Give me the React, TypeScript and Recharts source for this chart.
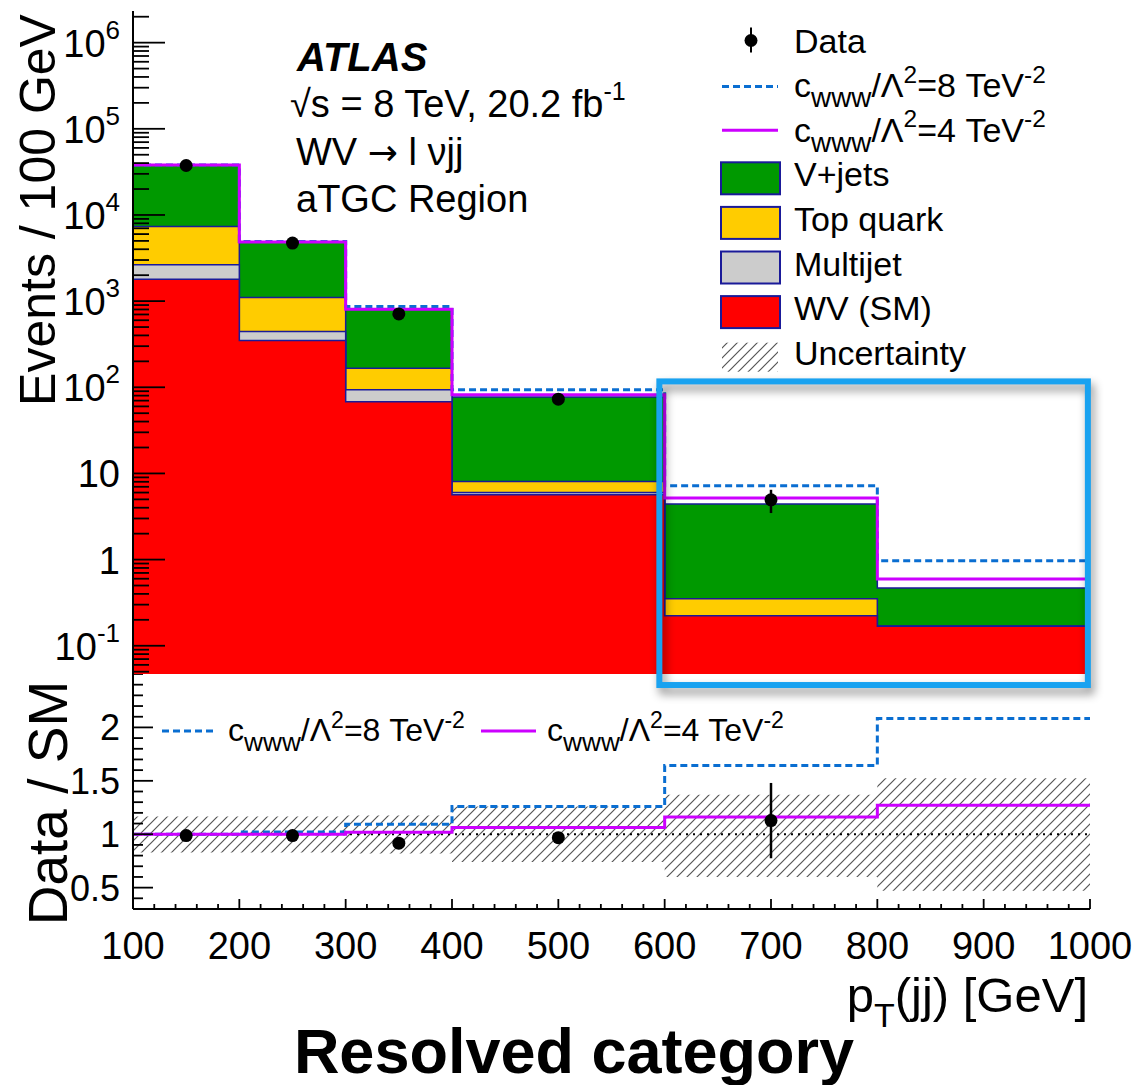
import React from 'react';
import {
  ComposedChart,
  Area,
  Line,
  Scatter,
  ErrorBar,
  XAxis,
  YAxis,
  ReferenceLine,
  ReferenceArea,
} from 'recharts';

const FONT = '"Liberation Sans", Arial, Helvetica, sans-serif';

// p_T(jj) bin edges [GeV]
const binEdges = [100, 200, 300, 400, 600, 800, 1000];
const dataX = [150, 250, 350, 500, 700];

// stacked backgrounds, events / 100 GeV
const wvSM = [1800, 349, 67.7, 5.65, 0.223, 0.168];
const multijet = [840, 94, 25.6, 0.36, 0, 0];
const topQuark = [4690, 657, 73.3, 2.06, 0.128, 0];
const vJets = [30770, 3730, 631, 69.3, 4.06, 0.3];

// aTGC predictions (total)
const cwww8 = [38100, 4930, 865, 93.3, 7.19, 0.97];
const cwww4 = [38100, 4840, 805, 81.7, 5.18, 0.594];

// data
const dataY = [37500, 4720, 711, 72.8, 4.94];
const dataErrLow = [0, 0, 0, 0, 1.47];
const dataErrHigh = [0, 0, 0, 0, 1.52];

// ratio panel
const ratio8 = [1.0, 1.02, 1.094, 1.259, 1.643, 2.083];
const ratio4 = [1.0, 1.0, 1.019, 1.062, 1.162, 1.272];
const ratioData = [0.987, 0.987, 0.916, 0.968, 1.128];
const ratioErrLow = [0, 0, 0, 0, 0.353];
const ratioErrHigh = [0, 0, 0, 0, 0.352];
const uncLow = [0.83, 0.83, 0.82, 0.74, 0.6, 0.47];
const uncHigh = [1.165, 1.165, 1.175, 1.26, 1.37, 1.525];

// axis ticks
const xMajor = [100, 200, 300, 400, 500, 600, 700, 800, 900, 1000];
const xTicks = xMajor.flatMap((v, i) => (i === 0 ? [v] : [v - 80, v - 60, v - 40, v - 20, v]));
const Y_MIN = 0.047;
const Y_MAX = 2.33e6;
const decades = [-2, -1, 0, 1, 2, 3, 4, 5, 6];
const logTicks = decades
  .flatMap((d) => [1, 2, 3, 4, 5, 6, 7, 8, 9].map((m) => m * Math.pow(10, d)))
  .filter((v) => v >= Y_MIN && v <= Y_MAX);
const ratioTicks = Array.from({ length: 23 }, (_, i) => +(0.3 + i * 0.1).toFixed(1));
const ratioLabels = [0.5, 1, 1.5, 2];

const GREEN = '#009900';
const YELLOW = '#ffcc00';
const GREY = '#cccccc';
const RED = '#ff0000';
const NAVY = '#1a1a99';
const BLUE = '#0a6ed1';
const MAGENTA = '#cc00ff';

const lastBin = (i: number) => Math.min(i, binEdges.length - 2);

const topRows = binEdges.map((x, i) => {
  const k = lastBin(i);
  const s1 = wvSM[k];
  const s2 = s1 + multijet[k];
  const s3 = s2 + topQuark[k];
  const s4 = s3 + vJets[k];
  return { x, wv: s1, multi: s2, top: s3, vjets: s4, c8: cwww8[k], c4: cwww4[k] };
});

const ratioRows = binEdges.map((x, i) => {
  const k = lastBin(i);
  return { x, r8: ratio8[k], r4: ratio4[k], band: [uncLow[k], uncHigh[k]] };
});

const topPoints = dataX.map((x, i) => ({ x, y: dataY[i], err: [dataErrLow[i], dataErrHigh[i]] }));
const ratioPoints = dataX.map((x, i) => ({ x, y: ratioData[i], err: [ratioErrLow[i], ratioErrHigh[i]] }));

const axisStyle = { stroke: '#000', strokeWidth: 2 };

const XTick = (props: any) => {
  const { x, y, payload, dir, major, minor, label } = props;
  const isMajor = payload.value % 100 === 0;
  const len = isMajor ? major : minor;
  return (
    <g>
      <line x1={x} y1={y} x2={x} y2={y + dir * len} stroke="#000" strokeWidth={1.8} />
      {label && isMajor && (
        <text x={x} y={y + 50} textAnchor="middle" fontSize={38} fontFamily={FONT} fill="#000">
          {payload.value}
        </text>
      )}
    </g>
  );
};

const LogTick = (props: any) => {
  const { x, y, payload, dir, label } = props;
  const lg = Math.log10(payload.value);
  const e = Math.round(lg);
  const isMajor = Math.abs(lg - e) < 1e-6;
  const len = isMajor ? 32 : 16;
  return (
    <g>
      <line x1={x} y1={y} x2={x + dir * len} y2={y} stroke="#000" strokeWidth={1.8} />
      {label && isMajor && (
        <text x={x - 13} y={y + 14} textAnchor="end" fontSize={38} fontFamily={FONT} fill="#000">
          {e === 0 ? '1' : e === 1 ? '10' : (
            <>
              10<tspan dy={-18} fontSize={26}>{e}</tspan>
            </>
          )}
        </text>
      )}
    </g>
  );
};

const RatioTick = (props: any) => {
  const { x, y, payload, dir, label } = props;
  const v = payload.value;
  const isMajor = ratioLabels.some((l) => Math.abs(l - v) < 1e-6);
  const len = isMajor ? 20 : 10;
  return (
    <g>
      <line x1={x} y1={y} x2={x + dir * len} y2={y} stroke="#000" strokeWidth={1.8} />
      {label && isMajor && (
        <text x={x - 13} y={y + 13} textAnchor="end" fontSize={36} fontFamily={FONT} fill="#000">
          {String(v)}
        </text>
      )}
    </g>
  );
};

const Dot = (p: any) => <circle cx={p.cx} cy={p.cy} r={6.5} fill="#000" />;

const Hatch = ({ id }: { id: string }) => (
  <pattern id={id} patternUnits="userSpaceOnUse" width={10} height={10}>
    <path d="M0,10 L10,0 M-2,2 L2,-2 M8,12 L12,8" stroke="#555" strokeWidth={1.2} />
  </pattern>
);

const CwwwLabel = ({ x, y, value, size }: { x: number; y: number; value: string; size: number }) => (
  <text x={x} y={y} fontSize={size} fontFamily={FONT} fill="#000">
    c<tspan dy={size * 0.3} fontSize={size * 0.82}>www</tspan>
    <tspan dy={-size * 0.3}>/Λ</tspan>
    <tspan dy={-size * 0.42} fontSize={size * 0.72}>2</tspan>
    <tspan dy={size * 0.42}>={value} TeV</tspan>
    <tspan dy={-size * 0.42} fontSize={size * 0.72}>-2</tspan>
  </text>
);

const legendRows = ['Data', 'c8', 'c4', 'V+jets', 'Top quark', 'Multijet', 'WV (SM)', 'Uncertainty'];
const legendFill: Record<string, string> = { 'V+jets': GREEN, 'Top quark': YELLOW, Multijet: GREY, 'WV (SM)': RED };

const Overlay = () => (
  <svg width={1135} height={1085} style={{ position: 'absolute', left: 0, top: 0, zIndex: 3, pointerEvents: 'none' }}>
    <defs>
      <Hatch id="hatchL" />
    </defs>
    <text x={297} y={71} fontSize={40} fontWeight="bold" fontStyle="italic" fontFamily={FONT}>ATLAS</text>
    <text x={290} y={117} fontSize={38} fontFamily={FONT}>
      √s = 8 TeV, 20.2 fb<tspan dy={-17} fontSize={25}>-1</tspan>
    </text>
    <text x={296} y={165} fontSize={38} fontFamily={FONT}>
      WV <tspan fontFamily="DejaVu Sans" fontSize={36}>→</tspan> l νjj
    </text>
    <text x={296} y={212} fontSize={38} fontFamily={FONT}>aTGC Region</text>

    {legendRows.map((name, i) => {
      const b = 52.5 + i * 44.6;
      let sym: React.ReactNode = null;
      if (name === 'Data') {
        sym = (
          <g>
            <line x1={751} x2={751} y1={b - 25} y2={b} stroke="#000" strokeWidth={2} />
            <circle cx={751} cy={b - 12} r={6.5} fill="#000" />
          </g>
        );
      } else if (name === 'c8') {
        sym = <line x1={722} x2={778} y1={b - 10.5} y2={b - 10.5} stroke={BLUE} strokeWidth={3} strokeDasharray="7 4" />;
      } else if (name === 'c4') {
        sym = <line x1={722} x2={778} y1={b - 11.5} y2={b - 11.5} stroke={MAGENTA} strokeWidth={3} />;
      } else if (name === 'Uncertainty') {
        sym = <rect x={722} y={b - 22} width={56} height={29} fill="url(#hatchL)" />;
      } else {
        sym = <rect x={721} y={b - 24} width={59} height={32} fill={legendFill[name]} stroke={NAVY} strokeWidth={2} />;
      }
      return (
        <g key={name}>
          {sym}
          {name === 'c8' || name === 'c4' ? (
            <CwwwLabel x={794} y={b} value={name === 'c8' ? '8' : '4'} size={34} />
          ) : (
            <text x={794} y={b} fontSize={34} fontFamily={FONT}>{name}</text>
          )}
        </g>
      );
    })}

    <line x1={162} x2={213} y1={731} y2={731} stroke={BLUE} strokeWidth={3} strokeDasharray="7 4" />
    <CwwwLabel x={228} y={741} value="8" size={32} />
    <line x1={481} x2={536} y1={731} y2={731} stroke={MAGENTA} strokeWidth={3} />
    <CwwwLabel x={547} y={741} value="4" size={32} />

    <text transform="translate(55,210) rotate(-90)" textAnchor="middle" fontSize={50} fontFamily={FONT}>
      Events / 100 GeV
    </text>
    <text transform="translate(67,803) rotate(-90)" textAnchor="middle" fontSize={55} fontFamily={FONT}>
      Data / SM
    </text>
    <text x={1088} y={1012} textAnchor="end" fontSize={49} fontFamily={FONT}>
      p<tspan dy={15} fontSize={34}>T</tspan>
      <tspan dy={-15}>(jj) [GeV]</tspan>
    </text>
    <text x={574} y={1073} textAnchor="middle" fontSize={63} fontWeight="bold" fontFamily={FONT}>
      Resolved category
    </text>
  </svg>
);

const HighlightBox = (p: any) => (
  <rect
    x={p.x}
    y={p.y}
    width={p.width}
    height={p.height}
    fill="none"
    stroke="#19a2f0"
    strokeWidth={6}
    style={{ filter: 'drop-shadow(3px 6px 5px rgba(0,0,0,0.45))' }}
  />
);

export default function App() {
  return (
    <div style={{ position: 'absolute', left: 0, top: 0, width: 1135, height: 1085, background: '#fff', fontFamily: FONT }}>
      {/* ratio panel */}
      <div style={{ position: 'absolute', left: 0, top: 674, zIndex: 1 }}>
        <ComposedChart width={1135} height={411} data={ratioRows} margin={{ top: 0, right: 45, bottom: 0, left: 0 }}>
          <defs>
            <Hatch id="hatchR" />
          </defs>
          <XAxis
            xAxisId="b"
            type="number"
            dataKey="x"
            domain={[100, 1000]}
            allowDataOverflow
            ticks={xTicks}
            interval={0}
            height={176}
            tickSize={0}
            tickMargin={0}
            tickLine={false}
            axisLine={axisStyle}
            tick={(p: any) => <XTick {...p} dir={-1} major={10} minor={5} label />}
          />
          <XAxis
            xAxisId="t"
            orientation="top"
            type="number"
            dataKey="x"
            domain={[100, 1000]}
            allowDataOverflow
            ticks={xTicks}
            interval={0}
            height={0}
            tickSize={0}
            tickMargin={0}
            tickLine={false}
            axisLine={axisStyle}
            tick={(p: any) => <XTick {...p} dir={1} major={9} minor={5} />}
          />
          <YAxis
            yAxisId="l"
            type="number"
            domain={[0.3, 2.5]}
            allowDataOverflow
            ticks={ratioTicks}
            interval={0}
            width={133}
            tickSize={0}
            tickMargin={0}
            tickLine={false}
            axisLine={axisStyle}
            tick={(p: any) => <RatioTick {...p} dir={1} label />}
          />
          <YAxis
            yAxisId="r"
            orientation="right"
            type="number"
            domain={[0.3, 2.5]}
            allowDataOverflow
            ticks={ratioTicks}
            interval={0}
            width={0}
            tickSize={0}
            tickMargin={0}
            tickLine={false}
            axisLine={axisStyle}
            tick={(p: any) => <RatioTick {...p} dir={-1} />}
          />
          <Area
            xAxisId="b"
            yAxisId="l"
            type="stepAfter"
            dataKey="band"
            fill="url(#hatchR)"
            fillOpacity={1}
            stroke="none"
            isAnimationActive={false}
          />
          <ReferenceLine xAxisId="b" yAxisId="l" y={1} stroke="#000" strokeWidth={2} strokeDasharray="2 5" />
          <Line xAxisId="b" yAxisId="l" type="stepAfter" dataKey="r8" stroke={BLUE} strokeWidth={3} strokeDasharray="7 4" dot={false} isAnimationActive={false} />
          <Line xAxisId="b" yAxisId="l" type="stepAfter" dataKey="r4" stroke={MAGENTA} strokeWidth={3} dot={false} isAnimationActive={false} />
          <Scatter xAxisId="b" yAxisId="l" data={ratioPoints} dataKey="y" shape={Dot} isAnimationActive={false}>
            <ErrorBar dataKey="err" direction="y" width={0} stroke="#000" strokeWidth={2.5} isAnimationActive={false} />
          </Scatter>
        </ComposedChart>
      </div>

      {/* main panel */}
      <div style={{ position: 'absolute', left: 0, top: 0, zIndex: 2 }}>
        <ComposedChart width={1135} height={710} data={topRows} margin={{ top: 11, right: 45, bottom: 36, left: 0 }}>
          <XAxis
            xAxisId="b"
            type="number"
            dataKey="x"
            domain={[100, 1000]}
            allowDataOverflow
            ticks={xTicks}
            interval={0}
            height={0}
            tickSize={0}
            tickMargin={0}
            tickLine={false}
            axisLine={axisStyle}
            tick={(p: any) => <XTick {...p} dir={-1} major={16} minor={8} />}
          />
          <XAxis
            xAxisId="t"
            orientation="top"
            type="number"
            dataKey="x"
            domain={[100, 1000]}
            allowDataOverflow
            ticks={xTicks}
            interval={0}
            height={0}
            tickSize={0}
            tickMargin={0}
            tickLine={false}
            axisLine={axisStyle}
            tick={(p: any) => <XTick {...p} dir={1} major={17} minor={8} />}
          />
          <YAxis
            yAxisId="l"
            type="number"
            scale="log"
            domain={[Y_MIN, Y_MAX]}
            allowDataOverflow
            ticks={logTicks}
            interval={0}
            width={133}
            tickSize={0}
            tickMargin={0}
            tickLine={false}
            axisLine={axisStyle}
            tick={(p: any) => <LogTick {...p} dir={1} label />}
          />
          <YAxis
            yAxisId="r"
            orientation="right"
            type="number"
            scale="log"
            domain={[Y_MIN, Y_MAX]}
            allowDataOverflow
            ticks={logTicks}
            interval={0}
            width={0}
            tickSize={0}
            tickMargin={0}
            tickLine={false}
            axisLine={axisStyle}
            tick={(p: any) => <LogTick {...p} dir={-1} />}
          />
          <Area xAxisId="b" yAxisId="l" type="stepAfter" dataKey="vjets" baseValue={Y_MIN} fill={GREEN} fillOpacity={1} stroke={NAVY} strokeWidth={1.5} isAnimationActive={false} />
          <Area xAxisId="b" yAxisId="l" type="stepAfter" dataKey="top" baseValue={Y_MIN} fill={YELLOW} fillOpacity={1} stroke={NAVY} strokeWidth={1.5} isAnimationActive={false} />
          <Area xAxisId="b" yAxisId="l" type="stepAfter" dataKey="multi" baseValue={Y_MIN} fill={GREY} fillOpacity={1} stroke={NAVY} strokeWidth={1.5} isAnimationActive={false} />
          <Area xAxisId="b" yAxisId="l" type="stepAfter" dataKey="wv" baseValue={Y_MIN} fill={RED} fillOpacity={1} stroke={NAVY} strokeWidth={1.5} isAnimationActive={false} />
          <Line xAxisId="b" yAxisId="l" type="stepAfter" dataKey="c8" stroke={BLUE} strokeWidth={3} strokeDasharray="7 4" dot={false} isAnimationActive={false} />
          <Line xAxisId="b" yAxisId="l" type="stepAfter" dataKey="c4" stroke={MAGENTA} strokeWidth={3} dot={false} isAnimationActive={false} />
          <Scatter xAxisId="b" yAxisId="l" data={topPoints} dataKey="y" shape={Dot} isAnimationActive={false}>
            <ErrorBar dataKey="err" direction="y" width={0} stroke="#000" strokeWidth={2.5} isAnimationActive={false} />
          </Scatter>
          <ReferenceArea
            xAxisId="b"
            yAxisId="l"
            x1={595}
            x2={998}
            y1={0.035}
            y2={117}
            ifOverflow="visible"
            shape={HighlightBox}
            zIndex={2000}
          />
        </ComposedChart>
      </div>

      <Overlay />
    </div>
  );
}
